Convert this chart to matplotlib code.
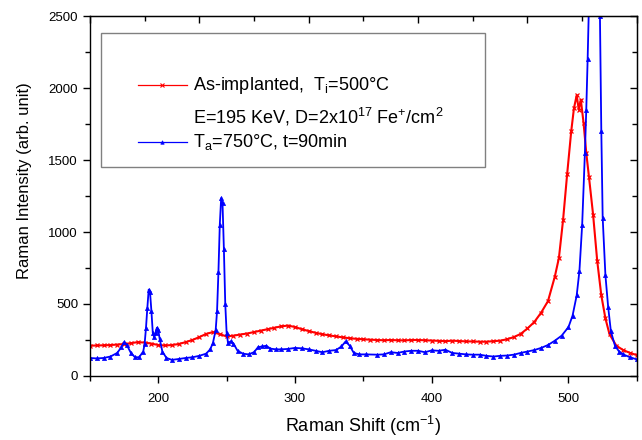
import matplotlib
matplotlib.use("Agg")
import matplotlib.pyplot as plt
from matplotlib.patches import Rectangle
from matplotlib.lines import Line2D
from matplotlib.ticker import FixedLocator, MultipleLocator

plt.rcParams['font.family'] = ['Liberation Sans', 'DejaVu Sans']
plt.rcParams['mathtext.fontset'] = 'custom'
plt.rcParams['mathtext.rm'] = 'Liberation Sans'
plt.rcParams['mathtext.it'] = 'Liberation Sans'
plt.rcParams['mathtext.default'] = 'regular'

# As-implanted, Ti=500C (red)
shift_red = [150, 155, 160, 165, 170, 175, 180, 185, 190, 195, 200, 205, 210, 215, 220,
             225, 230, 235, 240, 245, 250, 255, 260, 265, 270, 275, 280, 285, 290, 295,
             300, 305, 310, 315, 320, 325, 330, 335, 340, 345, 350, 355, 360, 365, 370,
             375, 380, 385, 390, 395, 400, 405, 410, 415, 420, 425, 430, 435, 440, 445,
             450, 455, 460, 465, 470, 475, 480, 485, 490, 493, 496, 499, 502, 504, 506,
             507.5, 509, 511, 513, 515, 518, 521, 524, 527, 530, 535, 540, 545, 550]
inten_red = [210, 212, 213, 215, 218, 222, 228, 235, 232, 225, 215, 212, 215, 222, 235,
             250, 270, 292, 305, 290, 275, 280, 288, 295, 305, 315, 325, 335, 345, 350,
             340, 325, 312, 300, 290, 282, 275, 268, 262, 258, 255, 252, 250, 248, 250,
             248, 247, 250, 250, 248, 246, 244, 242, 245, 243, 240, 240, 238, 238, 242,
             245, 255, 270, 292, 330, 375, 440, 520, 690, 820, 1080, 1400, 1700, 1860, 1950,
             1850, 1920, 1760, 1550, 1380, 1120, 800, 560, 400, 290, 210, 180, 160, 145]

# Ta=750C, t=90min (blue)
shift_blue = [150, 155, 160, 165, 170, 173, 175, 177, 180, 183, 186, 189, 190, 191, 192,
              193, 194, 195, 196, 197, 198, 199, 200, 201, 203, 206, 210, 215, 220, 225,
              230, 235, 238, 240, 242, 243, 244, 245, 246, 247, 248, 249, 250, 251, 253,
              255, 258, 262, 266, 270, 273, 276, 279, 282, 286, 290, 295, 300, 305, 310,
              315, 320, 325, 330, 334, 337, 340, 343, 347, 352, 360, 365, 370, 375, 380,
              385, 390, 395, 400, 405, 410, 415, 420, 425, 430, 435, 440, 445, 450, 455,
              460, 465, 470, 475, 480, 485, 490, 495, 500, 503, 506, 508, 510, 512, 513,
              514, 515, 517, 519, 521, 523, 524, 525, 527, 529, 531, 534, 537, 540, 545, 550]
inten_blue = [125, 122, 125, 135, 160, 200, 235, 215, 160, 130, 130, 170, 220, 330, 470,
              600, 580, 450, 300, 270, 300, 335, 320, 260, 170, 125, 112, 118, 125, 130,
              140, 155, 185, 230, 320, 450, 720, 1050, 1235, 1200, 880, 500, 300, 230, 240,
              225, 175, 155, 150, 165, 200, 205, 210, 190, 185, 185, 188, 195, 192, 185,
              175, 165, 175, 180, 205, 240, 210, 160, 150, 150, 148, 150, 165, 160, 170,
              175, 175, 165, 178, 175, 182, 160, 155, 150, 148, 148, 140, 135, 140, 142,
              148, 160, 170, 180, 195, 215, 245, 280, 340, 420, 560, 730, 1050, 1550, 1850,
              2200, 2600, 3000, 3200, 3000, 2500, 1700, 1100, 700, 480, 310, 210, 170, 150, 130, 115]

fig = plt.figure(figsize=(6.42, 4.40), dpi=100)
ax = fig.add_axes([0.140, 0.1455, 0.852, 0.818])

ax.plot(shift_red, inten_red, color="#ff0000", lw=1.5, marker="x", ms=3, mew=0.9)
ax.plot(shift_blue, inten_blue, color="#0000ff", lw=1.3, marker="^", ms=3, mew=0.5)

ax.set_xlim(150, 550)
ax.set_ylim(0, 2500)
ax.xaxis.set_major_locator(FixedLocator([200, 300, 400, 500]))
ax.xaxis.set_minor_locator(FixedLocator([150, 250, 350, 450, 550]))
ax.yaxis.set_major_locator(MultipleLocator(500))
ax.yaxis.set_minor_locator(MultipleLocator(250))
ax.tick_params(which="major", direction="out", length=5, width=1, labelsize=9.5)
ax.tick_params(axis="x", which="major", pad=7)
ax.tick_params(which="minor", direction="out", length=3.5, width=1)
for s in ax.spines.values():
    s.set_linewidth(1)

# mirror axes with inward ticks
top = ax.secondary_xaxis("top")
top.xaxis.set_major_locator(FixedLocator([150, 230, 310, 390, 470, 550]))
top.xaxis.set_minor_locator(FixedLocator([190, 270, 350, 430, 510]))
top.tick_params(which="major", direction="in", length=5, width=1, labeltop=False)
top.tick_params(which="minor", direction="in", length=3.5, width=1)
right = ax.secondary_yaxis("right")
right.yaxis.set_major_locator(MultipleLocator(500))
right.yaxis.set_minor_locator(MultipleLocator(250))
right.tick_params(which="major", direction="in", length=5, width=1, labelright=False)
right.tick_params(which="minor", direction="in", length=3.5, width=1)

ax.set_xlabel("Raman Shift (cm$^{-1}$)", fontsize=13, labelpad=7)
ax.set_ylabel("Raman Intensity (arb. unit)", fontsize=12)
ax.yaxis.set_label_coords(-0.106, 0.542)

# legend box drawn by hand
ax.add_patch(Rectangle((0.020, 0.581), 0.702, 0.372, transform=ax.transAxes,
                       fill=False, edgecolor="#808080", lw=1, zorder=5))
ax.add_line(Line2D([0.088, 0.177], [0.808, 0.808], transform=ax.transAxes,
                   color="#ff0000", lw=0.9))
ax.add_line(Line2D([0.1325], [0.808], transform=ax.transAxes, color="#ff0000",
                   marker="x", ms=2.5, mew=0.8))
ax.add_line(Line2D([0.088, 0.177], [0.650, 0.650], transform=ax.transAxes,
                   color="#0000ff", lw=0.9))
ax.add_line(Line2D([0.1325], [0.650], transform=ax.transAxes, color="#0000ff",
                   marker="^", ms=2.5, mew=0.5))
ax.text(0.188, 0.808, "As-implanted,  T$_i$=500°C", transform=ax.transAxes,
        fontsize=13, va="center")
ax.text(0.188, 0.719, "E=195 KeV, D=2x10$^{17}$ Fe$^{+}$/cm$^{2}$", transform=ax.transAxes,
        fontsize=13, va="center")
ax.text(0.188, 0.650, "T$_a$=750°C, t=90min", transform=ax.transAxes,
        fontsize=13, va="center")

fig.savefig("out.png", dpi=100)
